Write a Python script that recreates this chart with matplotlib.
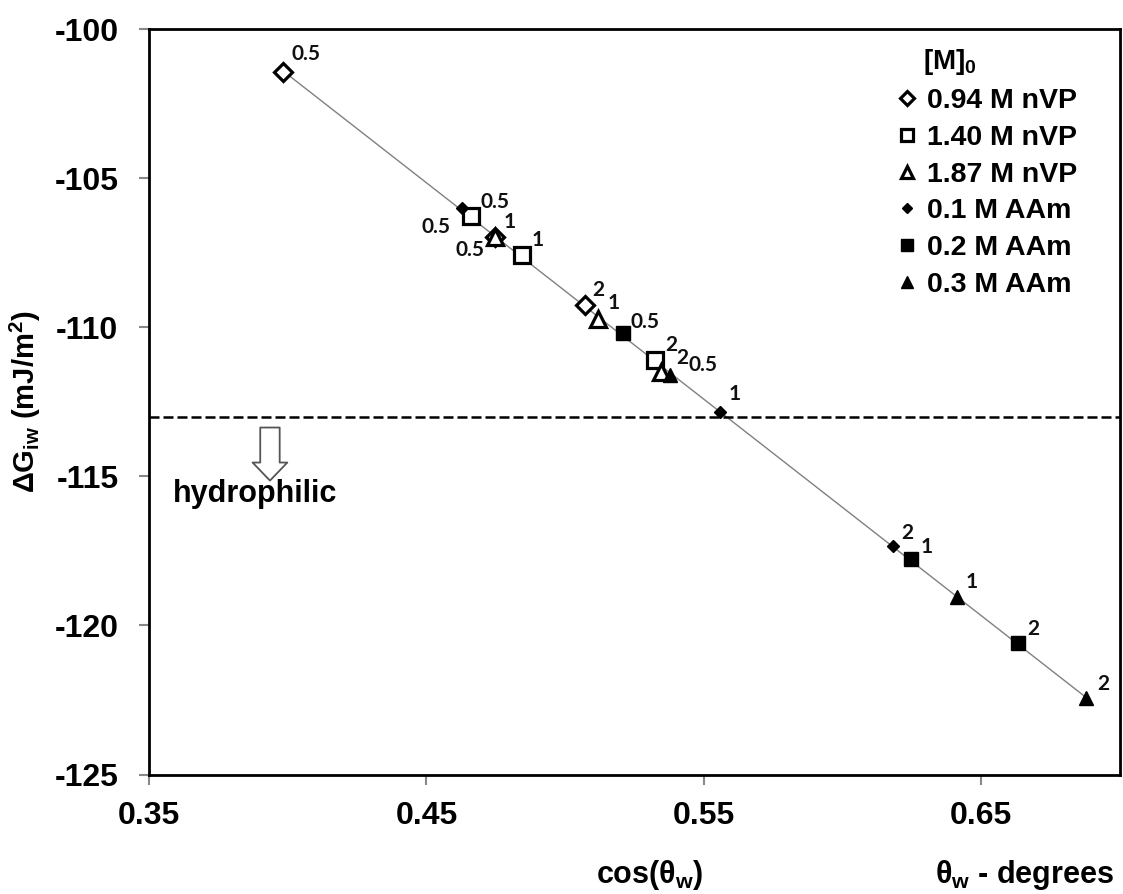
import matplotlib
matplotlib.use('Agg')
import matplotlib.pyplot as plt
import numpy as np
from matplotlib.patches import FancyArrowPatch

plt.rcParams['font.family'] = ['Liberation Sans', 'DejaVu Sans']
plt.rcParams['font.weight'] = 'bold'
plt.rcParams['axes.labelweight'] = 'bold'
plt.rcParams['axes.unicode_minus'] = False
plt.rcParams['mathtext.fontset'] = 'custom'
plt.rcParams['mathtext.rm'] = 'Liberation Sans:bold'
plt.rcParams['mathtext.it'] = 'Liberation Sans:bold'
plt.rcParams['mathtext.bf'] = 'Liberation Sans:bold'
plt.rcParams['mathtext.default'] = 'rm'

# data
names = ['0.94 M nVP', '1.40 M nVP', '1.87 M nVP', '0.1 M AAm', '0.2 M AAm', '0.3 M AAm']
cos_vals = [
    [0.3984, 0.4747, 0.5071],
    [0.4659, 0.4843, 0.5323],
    [0.4747, 0.5119, 0.5347],
    [0.4630, 0.5558, 0.6180],
    [0.5209, 0.6248, 0.6633],
    [0.5377, 0.6411, 0.6879],
]
dg_vals = [
    [-101.42, -106.97, -109.25],
    [-106.27, -107.57, -111.10],
    [-106.97, -109.73, -111.49],
    [-106.01, -112.83, -117.33],
    [-110.20, -117.78, -120.58],
    [-111.60, -119.06, -122.45],
]
pt_labels = ['0.5', '1', '2']
threshold = -113.0
xticks = [0.35, 0.45, 0.55, 0.65]
yticks = [-100, -105, -110, -115, -120, -125]

# marker styles and label offsets (pixels, right/down)
markers = [('D', 9, 'white'), ('s', 11, 'white'), ('^', 11, 'white'),
           ('D', 6.5, 'black'), ('s', 10, 'black'), ('^', 10, 'black')]
offsets = [
    [(23, -18), (15, -15), (13, -15)],
    [(24, -14), (16, -15), (17, -15)],
    [(-25, 13), (15, -16), (21, -14)],
    [(-26, 19), (15, -18), (15, -13)],
    [(22, -11), (15, -12), (15, -14)],
    [(33, -10), (15, -15), (17, -14)],
]

fig = plt.figure(figsize=(11.23, 8.94), dpi=100)
ax = fig.add_axes([149 / 1123, 1 - 774.5 / 894, (1120 - 149) / 1123, (774.5 - 29.3) / 894])

allx = np.concatenate(cos_vals)
ally = np.concatenate(dg_vals)
coef = np.polyfit(allx, ally, 1)
xs = np.array([allx.min(), allx.max()])
ax.plot(xs, np.polyval(coef, xs), color='#808080', lw=1, zorder=1)

ax.axhline(threshold, color='black', lw=1.8, dashes=(4, 1.6), zorder=1)

for i, name in enumerate(names):
    m, ms, fc = markers[i]
    ax.plot(cos_vals[i], dg_vals[i], linestyle='none', marker=m, markersize=ms,
            markerfacecolor=fc, markeredgecolor='black',
            markeredgewidth=2.3 if fc == 'white' else 1, label=name, zorder=3)
    for j, lab in enumerate(pt_labels):
        dx, dy = offsets[i][j]
        ax.annotate(lab, (cos_vals[i][j], dg_vals[i][j]), xytext=(dx * 0.72, -dy * 0.72),
                    textcoords='offset points', ha='center', va='center',
                    fontsize=15, fontfamily='Lato', fontweight='bold', color='#111111')

arrow = FancyArrowPatch((0.3936, -113.36), (0.3936, -115.14), mutation_scale=1,
                        arrowstyle='simple,head_length=13,head_width=25,tail_width=14',
                        fc='white', ec='#555555', lw=1.3, shrinkA=0, shrinkB=0)
ax.add_patch(arrow)
ax.text(0.3587, -115.87, 'hydrophilic', fontsize=22, va='baseline', ha='left')

ax.set_xlim(0.35, 0.70)
ax.set_ylim(-125, -100)
ax.set_xticks(xticks)
ax.set_xticklabels([f'{t:.2f}' for t in xticks])
ax.set_yticks(yticks)
ax.tick_params(direction='out', length=7, width=1.5, color='#888888', labelsize=23)
ax.tick_params(axis='y', pad=15)
ax.tick_params(axis='x', pad=12)
for s in ax.spines.values():
    s.set_linewidth(2)
    s.set_color('black')

ax.set_ylabel('ΔG$_{iw}$ (mJ/m$^2$)', fontsize=21, fontweight='bold', labelpad=8)
fig.text(650 / 1123, 1 - 883 / 894, 'cos(θ$_w$)', fontsize=22, ha='center', va='baseline')
fig.text(1114 / 1123, 1 - 883 / 894, 'θ$_w$ - degrees', fontsize=22, ha='right', va='baseline')

ax.legend(loc='upper left', bbox_to_anchor=(893 / 1123, 1 - 88 / 894), bbox_transform=fig.transFigure,
          frameon=False, fontsize=20.5, handlelength=1.0, handletextpad=0.2, labelspacing=0.38,
          borderpad=0, borderaxespad=0, markerscale=0.8)
fig.text(923 / 1123, 1 - 62 / 894, '[M]$_0$', fontsize=20, va='center', ha='left')

fig.savefig('out.png', dpi=100)
